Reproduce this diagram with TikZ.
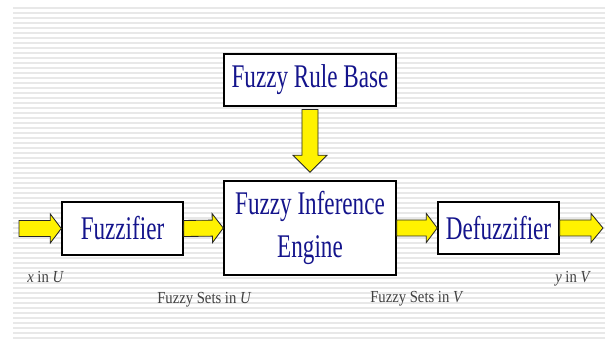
\documentclass[tikz,border=0pt]{standalone}
\usepackage{fontspec}
\setmainfont{Liberation Serif}
\newfontfamily\boxfont[FakeStretch=0.7]{Liberation Serif}
\newfontfamily\labfont[FakeStretch=0.87]{Liberation Serif}
\usetikzlibrary{calc}
\definecolor{boxblue}{RGB}{20,20,140}
\definecolor{stripegray}{RGB}{232,232,232}
\definecolor{labgray}{RGB}{64,64,64}
\tikzset{
  block/.style={draw=black, line width=1pt, fill=white, text=boxblue, align=center,
    inner sep=0pt, font=\boxfont\fontsize{23.5}{30}\selectfont},
  lab/.style={text=labgray, inner sep=0pt, anchor=base west,
    font=\labfont\fontsize{12}{14}\selectfont},
  fatarrow/.style={draw=black!85, line width=0.6pt, fill=yellow}
}
\newcommand{\fatarrow}[4]{%
  \draw[fatarrow] let \p1=(#1), \p2=(#2),
    \n1={atan2(\y2-\y1,\x2-\x1)}, \n2={veclen(\x2-\x1,\y2-\y1)} in
    [shift={(\p1)}, rotate=\n1] (0pt,5.7pt) -- ({\n2-#3},5.7pt) -- ({\n2-#3},#4)
    -- (\n2,0pt) -- ({\n2-#3},-#4) -- ({\n2-#3},-5.7pt) -- (0pt,-5.7pt) -- cycle;}
\begin{document}
\begin{tikzpicture}[x=0.025cm, y=0.025cm]
  \useasboundingbox (0,0) rectangle (605,341);
  \foreach \k in {0,...,66}
    \fill[stripegray] (13,{334-5*\k}) rectangle (605,{332-5*\k});
  \node[block, minimum width=4.3cm, minimum height=1.3cm] (rulebase) at (310,261) {Fuzzy Rule Base};
  \node[block, minimum width=4.3cm, minimum height=2.35cm] (engine) at (310,113) {Fuzzy Inference\\Engine};
  \node[block, minimum width=3.025cm, minimum height=1.325cm] (fuzz) at (122.5,112.5) {Fuzzifier};
  \node[block, minimum width=3.025cm, minimum height=1.3cm] (defuzz) at (498.5,113) {Defuzzifier};
  \coordinate (in) at (19,112.5);
  \coordinate (out) at (603,113);
  \fatarrow{in}{fuzz.west}{7.8pt}{10.3pt}
  \fatarrow{fuzz.east}{engine.west}{7.8pt}{10.3pt}
  \fatarrow{engine.east}{defuzz.west}{7.8pt}{10.3pt}
  \fatarrow{defuzz.east}{out}{8.5pt}{10.3pt}
  \fatarrow{[yshift=-2pt]rulebase.south}{[yshift=5.7pt]engine.north}{12.1pt}{12.1pt}
  \node[lab] (xin) at (27,58) {\textit{x} in \textit{U}};
  \node[lab] (setsu) at (157,37) {Fuzzy Sets in \textit{U}};
  \node[lab] (setsv) at (370,38) {Fuzzy Sets in \textit{V}};
  \node[lab] (yin) at (555,58) {\textit{y} in \textit{V}};
\end{tikzpicture}
\end{document}
